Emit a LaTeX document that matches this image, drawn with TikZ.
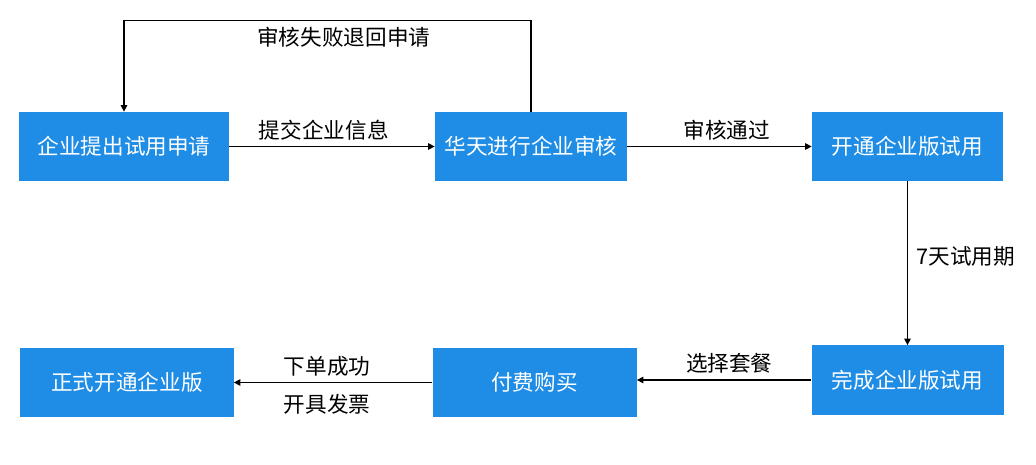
\documentclass[tikz,border=0pt]{standalone}
\usepackage{fontspec}
\setmainfont{Noto Sans CJK SC}
\usetikzlibrary{positioning,arrows.meta}
\definecolor{boxblue}{RGB}{31,141,229}

\begin{document}
\begin{tikzpicture}[node distance=7.5cm]
    \tikzset{
        box/.style = {rectangle, fill=boxblue, text=white, minimum height=1.38cm, inner sep=0pt, font=\fontsize{12.3}{14}\selectfont},
        lbl/.style = {font=\fontsize{12.3}{14}\selectfont, text=black},
        arrow/.style = {line width=0.6pt, -{Triangle[length=1.3mm, width=1.3mm]}}
    }
    \useasboundingbox (0,0) rectangle (20.72,-9.3);

    \node (apply) [box, minimum width=4.2cm] at (2.48,-2.93) {企业提出试用申请};
    \node (review) [box, minimum width=3.84cm, right of=apply, xshift=0.64cm] {华天进行企业审核};
    \node (trial) [box, minimum width=3.82cm, right of=review, xshift=0.03cm] {开通企业版试用};
    \node (done) [box, minimum width=3.84cm, below of=trial, yshift=2.83cm] {完成企业版试用};
    \node (buy) [box, minimum width=4.08cm, left of=done, xshift=0.04cm, yshift=-0.05cm] {付费购买};
    \node (formal) [box, minimum width=4.26cm, left of=buy, xshift=-0.65cm] {正式开通企业版};

    \draw [arrow] (apply) -- node[lbl, above, pos=0.46] {提交企业信息} (review);
    \draw [arrow] (review) -- node[lbl, above, pos=0.54] {审核通过} (trial);
    \draw [arrow] (review.north) -- ++(0,1.82) -| node[lbl, below, pos=0.23] {审核失败退回申请} (apply.north);
    \draw [arrow] (trial) -- node[lbl, right, pos=0.46, xshift=0.05cm] {7天试用期} (done);
    \draw [arrow] (done.west) -- node[lbl, above, pos=0.47] {选择套餐} (done.west -| buy.east);
    \draw [arrow] (buy) -- node[lbl, above, pos=0.53] {下单成功}
        node[lbl, below, pos=0.53, yshift=-0.1cm] {开具发票} (formal);
\end{tikzpicture}
\end{document}
